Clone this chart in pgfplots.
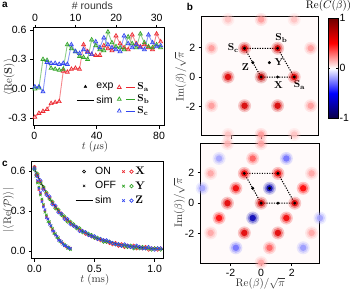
\documentclass[border=0pt]{standalone}
\usepackage[no-math]{fontspec}
\setmainfont{Liberation Sans}
\usepackage{pgfplots}
\pgfplotsset{compat=1.18}
\usepackage{pgfplotstable}

\definecolor{cR}{RGB}{236,40,48}
\definecolor{cG}{RGB}{50,165,40}
\definecolor{cB}{RGB}{50,70,240}

\pgfplotsset{colormap={rwb}{rgb255=(10,0,70) rgb255=(0,0,255) rgb255=(255,255,255) rgb255=(255,0,0) rgb255=(110,0,0)}}

\pgfplotsset{
  base/.style={scale only axis, anchor=south west,
    axis line style={line width=1pt},
    tick align=outside, major tick length=3pt,
    tick style={black, line width=0.8pt},
    tick label style={font=\fontsize{10.5}{12}\selectfont},
    label style={font=\fontsize{10.5}{12}\selectfont, black!80},
    /pgf/number format/assume math mode=true},
  trileg/.style={legend image code/.code={
      \draw[#1, mark size=2.2pt, line width=0.7pt] plot[mark=triangle] coordinates {(0.05cm,0cm)};
      \draw[#1, line width=0.9pt] (0.28cm,0cm) -- (0.6cm,0cm);}},
  xoleg/.style={legend image code/.code={
      \draw[#1, mark size=1.8pt, line width=0.7pt] plot[mark=x] coordinates {(0.05cm,0cm)};
      \draw[#1, mark size=1.8pt, line width=0.7pt] plot[mark=o] coordinates {(0.33cm,0cm)};}},
  blob/.style 2 args={scatter, only marks, mark=*, point meta=explicit,
      scatter/use mapped color={draw opacity=0, fill=mapped color, fill opacity=#2},
      mark options={draw opacity=0},
      mark size=#1},
}

% panel a : stabilizer values vs time (t in us)
\pgfplotstableread{
t a b c
0.4 -0.29 0.00 0.02
3.0 -0.25 0.01 0.02
5.6 -0.23 0.30 -0.03
8.2 -0.21 0.29 0.27
10.8 -0.15 0.21 0.26
13.4 -0.14 0.20 0.26
16.0 -0.13 0.19 0.25
18.6 0.18 0.20 0.26
21.2 0.17 0.45 0.25
23.8 0.20 0.41 0.45
26.4 0.21 0.38 0.38
29.0 0.20 0.33 0.36
31.6 0.45 0.32 0.40
34.2 0.38 0.30 0.37
36.8 0.35 0.50 0.35
39.4 0.34 0.44 0.48
42.0 0.34 0.40 0.42
44.6 0.44 0.39 0.52
47.2 0.41 0.58 0.45
49.8 0.39 0.47 0.42
52.4 0.54 0.43 0.40
55.0 0.46 0.42 0.38
57.6 0.42 0.40 0.54
60.2 0.40 0.53 0.46
62.8 0.55 0.46 0.42
65.4 0.46 0.42 0.45
68.0 0.43 0.56 0.42
70.6 0.45 0.47 0.40
73.2 0.42 0.43 0.55
75.8 0.40 0.42 0.47
78.4 0.56 0.45 0.43
81.0 0.48 0.42 0.44
}\tabA

% panel c : ON data (t in ms)
\pgfplotstableread{
t r g b
0.000 0.63 0.61 0.62
0.025 0.57 0.58 0.56
0.050 0.52 0.51 0.53
0.075 0.47 0.48 0.46
0.100 0.43 0.44 0.42
0.125 0.40 0.39 0.41
0.150 0.36 0.37 0.35
0.175 0.33 0.32 0.34
0.200 0.30 0.31 0.29
0.225 0.28 0.27 0.28
0.250 0.25 0.26 0.24
0.275 0.23 0.22 0.24
0.300 0.21 0.22 0.20
0.325 0.19 0.20 0.19
0.350 0.18 0.17 0.18
0.375 0.16 0.17 0.15
0.400 0.15 0.14 0.15
0.425 0.13 0.14 0.14
0.450 0.12 0.13 0.12
0.475 0.11 0.12 0.11
0.500 0.10 0.10 0.11
0.525 0.09 0.10 0.09
0.550 0.08 0.09 0.09
0.575 0.08 0.07 0.08
0.600 0.07 0.07 0.08
0.625 0.06 0.07 0.07
0.650 0.05 0.06 0.06
0.675 0.06 0.05 0.05
0.700 0.04 0.05 0.05
0.725 0.05 0.04 0.04
0.750 0.03 0.04 0.05
0.775 0.04 0.03 0.04
0.800 0.03 0.04 0.03
0.825 0.04 0.02 0.03
0.850 0.02 0.03 0.04
0.875 0.03 0.02 0.03
0.900 0.02 0.03 0.02
0.925 0.03 0.02 0.02
0.950 0.01 0.02 0.03
0.975 0.02 0.01 0.02
1.000 0.02 0.02 0.01
1.025 0.01 0.02 0.02
1.050 0.02 0.01 0.02
}\tabON

% panel c : OFF data
\pgfplotstableread{
t r g b
0.0000 0.62 0.63 0.61
0.0125 0.57 0.56 0.58
0.0250 0.52 0.51 0.53
0.0375 0.46 0.48 0.47
0.0500 0.43 0.42 0.44
0.0625 0.38 0.39 0.37
0.0750 0.34 0.35 0.33
0.0875 0.30 0.29 0.31
0.1000 0.26 0.27 0.25
0.1125 0.24 0.22 0.24
0.1250 0.21 0.22 0.20
0.1375 0.18 0.19 0.19
0.1500 0.16 0.17 0.15
0.1625 0.14 0.13 0.15
0.1750 0.12 0.13 0.12
0.1875 0.11 0.10 0.11
0.2000 0.09 0.10 0.08
0.2125 0.08 0.07 0.08
0.2250 0.06 0.07 0.07
0.2375 0.06 0.05 0.05
0.2500 0.04 0.05 0.04
0.2625 0.03 0.04 0.04
0.2750 0.03 0.02 0.03
0.2875 0.02 0.03 0.02
0.3000 0.02 0.01 0.02
}\tabOFF

% panel c : simulation
\pgfplotstableread{
t v
0.00 0.620
0.05 0.520
0.10 0.434
0.15 0.363
0.20 0.304
0.25 0.254
0.30 0.213
0.35 0.178
0.40 0.149
0.45 0.124
0.50 0.104
0.60 0.073
0.70 0.051
0.80 0.036
0.90 0.025
1.00 0.017
1.07 0.013
}\tabSIM

% panel b : characteristic function peaks (top)
\pgfplotstableread{
x y c
0 0 0.72
2.2 0 0.6
-2.2 0 0.62
1.1 1.95 0.64
-1.1 1.95 0.64
1.1 -1.95 0.64
-1.1 -1.95 0.64
3.3 1.95 0.2
-3.3 1.95 0.2
3.3 -1.95 0.2
-3.3 -1.95 0.2
0 3.9 0.2
0 -3.9 0.2
2.2 3.9 0.12
-2.2 3.9 0.12
2.2 -3.9 0.12
-2.2 -3.9 0.12
}\blobTop

% panel b : characteristic function peaks (bottom)
\pgfplotstableread{
x y c
0 0 0.66
2.2 0 0.6
-2.2 0 0.6
1.1 1.95 0.56
-1.1 1.95 0.56
1.1 -1.95 0.6
-1.1 -1.95 0.6
3.3 1.95 0.18
-3.3 1.95 0.18
3.3 -1.95 0.18
-3.3 -1.95 0.18
0 3.9 0.18
0 -3.9 0.18
-2.2 3.9 0.15
0.55 0.975 -0.7
-0.55 -0.975 -0.7
-1.65 0.975 0.55
2.75 0.975 0.5
1.65 -0.975 0.55
-2.75 -0.975 0.5
-0.55 2.925 0.32
1.65 2.925 -0.28
0.55 -2.925 0.32
-1.65 -2.925 -0.28
-2.75 2.925 -0.18
2.75 -2.925 -0.2
-3.85 0.975 -0.18
3.85 -0.975 -0.18
}\blobBot

\begin{document}
\begin{tikzpicture}
\path[use as bounding box] (0,0) rectangle (351pt,292pt);

% ================= panel a =================
\begin{axis}[base, at={(33pt,166pt)}, width=132pt, height=98pt,
  xmin=-0.8, xmax=83.8, ymin=-0.38, ymax=0.62,
  xtick={0,40,80}, ytick={-0.3,0,0.3,0.6},
  yticklabel style={/pgf/number format/fixed, /pgf/number format/precision=1, /pgf/number format/fixed zerofill},
  xtick pos=bottom, ytick pos=left,
  xlabel={$t~(\mu\mathrm{s})$},
  ylabel={$\langle\mathrm{Re}(\mathbf{S})\rangle$},
  xlabel style={at={(axis description cs:0.47,-0.215)}, anchor=center},
  ylabel style={at={(axis description cs:-0.18,0.5)}, anchor=center},
  legend style={at={(0.63,0.47)}, anchor=north west, draw=none, fill=none,
    font=\fontsize{10}{10}\selectfont, row sep=-0.5pt, inner sep=1pt},
  legend cell align=left,
]
\addplot[cR!55, line width=0.9pt, forget plot] table[x=t, y=a] {\tabA};
\addplot[cG!55, line width=0.9pt, forget plot] table[x=t, y=b] {\tabA};
\addplot[cB!55, line width=0.9pt, forget plot] table[x=t, y=c] {\tabA};
\addplot[only marks, cR, mark=triangle, mark size=2.3pt, line width=0.7pt, forget plot] table[x=t, y=a] {\tabA};
\addplot[only marks, cG, mark=triangle, mark size=2.3pt, line width=0.7pt, forget plot] table[x=t, y=b] {\tabA};
\addplot[only marks, cB, mark=triangle, mark size=2.3pt, line width=0.7pt, forget plot] table[x=t, y=c] {\tabA};
\addlegendimage{trileg=cR}
\addlegendentry{$\mathbf{S}_\mathbf{a}$}
\addlegendimage{trileg=cG}
\addlegendentry{$\mathbf{S}_\mathbf{b}$}
\addlegendimage{trileg=cB}
\addlegendentry{$\mathbf{S}_\mathbf{c}$}
\end{axis}

\begin{axis}[base, at={(33pt,166pt)}, width=132pt, height=98pt,
  xmin=-0.49, xmax=32.04, ymin=0, ymax=1,
  axis x line*=top, axis y line=none,
  xtick={0,10,20,30},
  xlabel={\# rounds},
  xlabel style={at={(axis description cs:0.45,1.225)}, anchor=center},
  legend style={at={(0.32,0.47)}, anchor=north west, draw=none, fill=none,
    font=\fontsize{10.5}{11}\selectfont, row sep=2pt, inner sep=1pt},
  legend cell align=left,
  legend entries={exp, sim},
]
\addlegendimage{only marks, mark=triangle*, black, mark size=1.6pt}
\addlegendimage{black, line width=0.9pt}
\end{axis}

% ================= panel c =================
\begin{axis}[base, at={(32pt,33pt)}, width=131pt, height=98pt,
  xmin=-0.02, xmax=1.07, ymin=-0.06, ymax=0.675,
  xtick={0,0.5,1}, ytick={0,0.3,0.6},
  xticklabel style={/pgf/number format/fixed, /pgf/number format/precision=1, /pgf/number format/fixed zerofill},
  yticklabel style={/pgf/number format/fixed, /pgf/number format/precision=1, /pgf/number format/fixed zerofill},
  xtick pos=bottom, ytick pos=left,
  xlabel={$t~(\mathrm{ms})$},
  ylabel={$|\langle\mathrm{Re}(\mathcal{P})\rangle|$},
  xlabel style={at={(axis description cs:0.48,-0.215)}, anchor=center},
  ylabel style={at={(axis description cs:-0.18,0.5)}, anchor=center},
  legend style={at={(0.32,0.97)}, anchor=north west, draw=none, fill=none,
    font=\fontsize{10.5}{11}\selectfont, row sep=1.5pt, inner sep=1pt},
  legend cell align=left,
]
\addplot[only marks, cR, mark=x, mark size=1.7pt, line width=0.6pt, forget plot] table[x=t, y=r] {\tabOFF};
\addplot[only marks, cG, mark=x, mark size=1.7pt, line width=0.6pt, forget plot] table[x=t, y=g] {\tabOFF};
\addplot[only marks, cB, mark=x, mark size=1.7pt, line width=0.6pt, forget plot] table[x=t, y=b] {\tabOFF};
\addplot[only marks, cR, mark=o, mark size=1.7pt, line width=0.6pt, forget plot] table[x=t, y=r] {\tabON};
\addplot[only marks, cG, mark=o, mark size=1.7pt, line width=0.6pt, forget plot] table[x=t, y=g] {\tabON};
\addplot[only marks, cB, mark=o, mark size=1.7pt, line width=0.6pt, forget plot] table[x=t, y=b] {\tabON};
\addplot[black, line width=1pt, forget plot] table[x=t, y=v] {\tabSIM};
\addlegendimage{only marks, mark=o, black, mark size=1.5pt, line width=0.6pt}
\addlegendentry{ON}
\addlegendimage{only marks, mark=x, black, mark size=1.6pt, line width=0.6pt}
\addlegendentry{OFF}
\addlegendimage{black, line width=0.9pt}
\addlegendentry{sim}
\end{axis}

\begin{axis}[base, at={(32pt,33pt)}, width=131pt, height=98pt,
  xmin=0, xmax=1, ymin=0, ymax=1, hide axis,
  legend style={at={(0.68,0.97)}, anchor=north west, draw=none, fill=none,
    font=\fontsize{10.5}{11}\selectfont, row sep=1.5pt, inner sep=1pt},
  legend cell align=left,
]
\addlegendimage{xoleg=cR}
\addlegendentry{$\mathbf{X}$}
\addlegendimage{xoleg=cG}
\addlegendentry{$\mathbf{Y}$}
\addlegendimage{xoleg=cB}
\addlegendentry{$\mathbf{Z}$}
\end{axis}

% ================= panel b top =================
\begin{axis}[base, at={(201.7pt,156pt)}, width=117.3pt, height=119pt,
  xmin=-3.95, xmax=3.85, ymin=-4.0, ymax=4.07,
  xtick={-2,0,2}, ytick={-2,0,2}, xticklabels={},
  xtick pos=bottom, ytick pos=left,
  ylabel={$\mathrm{Im}(\beta)/\sqrt{\pi}$},
  ylabel style={at={(axis description cs:-0.18,0.5)}, anchor=center},
  axis background/.style={fill=red!2},
  colormap name=rwb, point meta min=-1, point meta max=1,
  colorbar,
  colorbar style={at={(1.077,0.99)}, anchor=north west, scale only axis,
    width=10pt, height=100pt, ytick={-1,0,1},
    axis line style={line width=1pt},
    major tick length=2pt,
    yticklabel style={font=\fontsize{10.5}{12}\selectfont, xshift=-2pt},
    /pgf/number format/assume math mode=true},
]
\addplot[blob={6.5pt}{0.2}] table[meta=c] {\blobTop};
\addplot[blob={5pt}{0.35}] table[meta=c] {\blobTop};
\addplot[blob={3.2pt}{0.85}] table[meta=c] {\blobTop};
\addplot[black, line width=1pt, dash pattern=on 1.2pt off 1.3pt] coordinates {(-1.1,1.95) (1.1,1.95) (2.2,0) (0,0) (-1.1,1.95)};
\addplot[only marks, mark=*, mark size=1.3pt, black] coordinates {(0,0) (2.2,0) (1.1,1.95) (-1.1,1.95) (1.1,0) (0.55,0.975) (-0.55,0.975)};
\node at (axis cs:2.55,-0.55) {$\mathbf{S}_\mathbf{a}$};
\node at (axis cs:1.35,2.65) {$\mathbf{S}_\mathbf{b}$};
\node at (axis cs:-1.85,1.95) {$\mathbf{S}_\mathbf{c}$};
\node at (axis cs:1.15,-0.55) {$\mathbf{X}$};
\node at (axis cs:1.2,0.98) {$\mathbf{Y}$};
\node at (axis cs:-1.05,0.7) {$\mathbf{Z}$};
\end{axis}

% ================= panel b bottom =================
\begin{axis}[base, at={(200.7pt,29pt)}, width=119.3pt, height=119.7pt,
  xmin=-3.95, xmax=3.85, ymin=-3.92, ymax=3.92,
  xtick={-2,0,2}, ytick={-2,0,2},
  xtick pos=bottom, ytick pos=left,
  xlabel={$\mathrm{Re}(\beta)/\sqrt{\pi}$},
  ylabel={$\mathrm{Im}(\beta)/\sqrt{\pi}$},
  xlabel style={at={(axis description cs:0.5,-0.17)}, anchor=center},
  ylabel style={at={(axis description cs:-0.18,0.5)}, anchor=center},
  axis background/.style={fill=red!2},
  colormap name=rwb, point meta min=-1, point meta max=1,
]
\addplot[blob={6.5pt}{0.2}] table[meta=c] {\blobBot};
\addplot[blob={5pt}{0.35}] table[meta=c] {\blobBot};
\addplot[blob={3.2pt}{0.85}] table[meta=c] {\blobBot};
\addplot[black, line width=1pt, dash pattern=on 1.2pt off 1.3pt] coordinates {(-1.1,1.95) (1.1,1.95) (2.2,0) (0,0) (-1.1,1.95)};
\addplot[only marks, mark=*, mark size=1.3pt, black] coordinates {(0,0) (2.2,0) (1.1,1.95) (-1.1,1.95) (1.1,0) (0.55,0.975) (-0.55,0.975)};
\end{axis}

% titles and panel letters
\node at (328.5pt,286.5pt) {\fontsize{10.5}{12}\selectfont$\mathrm{Re}(C(\beta))$};
\node[anchor=center] at (5pt,287pt) {\fontsize{10}{12}\selectfont\bfseries a};
\node[anchor=center] at (190pt,285pt) {\fontsize{10}{12}\selectfont\bfseries b};
\node[anchor=center] at (5pt,128pt) {\fontsize{10}{12}\selectfont\bfseries c};
\end{tikzpicture}
\end{document}
